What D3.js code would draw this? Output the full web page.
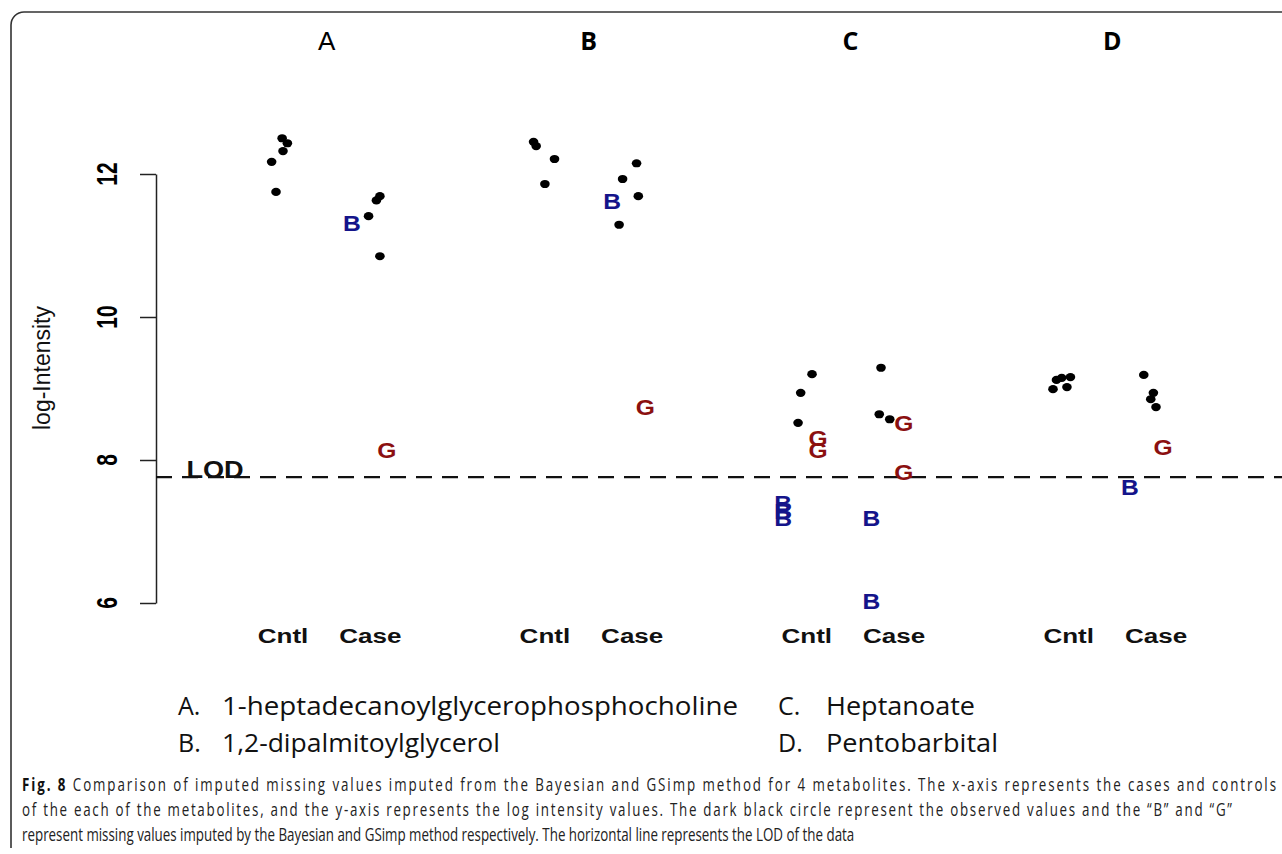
<!DOCTYPE html>
<html>
<head>
<meta charset="utf-8">
<script src="https://cdn.jsdelivr.net/npm/d3@7"></script>
<style>
  body { margin: 0; background: #fff; }
</style>
</head>
<body>
<div id="chart"></div>
<script>
// ---- data ----
const metabolites = ["A", "B", "C", "D"];
const groups = ["Cntl", "Case"];
const yTicks = [6, 8, 10, 12];
const lodValue = 7.76;

// [metabolite, group, jitter, log-intensity]
const observed = [
  ["A", "Cntl", -0.13, 12.17], ["A", "Cntl", -0.08, 11.75], ["A", "Cntl", 0.00, 12.32],
  ["A", "Cntl", -0.01, 12.50], ["A", "Cntl", 0.05, 12.43],
  ["A", "Case", -0.02, 11.41], ["A", "Case", 0.07, 11.63], ["A", "Case", 0.11, 11.69],
  ["A", "Case", 0.11, 10.85],
  ["B", "Cntl", -0.13, 12.45], ["B", "Cntl", -0.10, 12.39], ["B", "Cntl", 0.11, 12.21],
  ["B", "Cntl", 0.00, 11.86],
  ["B", "Case", 0.05, 12.15], ["B", "Case", -0.11, 11.93], ["B", "Case", 0.07, 11.69],
  ["B", "Case", -0.15, 11.29],
  ["C", "Cntl", 0.06, 9.20], ["C", "Cntl", -0.07, 8.94], ["C", "Cntl", -0.10, 8.52],
  ["C", "Case", -0.15, 9.29], ["C", "Case", -0.17, 8.64], ["C", "Case", -0.05, 8.57],
  ["D", "Cntl", -0.18, 8.99], ["D", "Cntl", -0.14, 9.12], ["D", "Cntl", -0.08, 9.15],
  ["D", "Cntl", -0.02, 9.02], ["D", "Cntl", 0.02, 9.16],
  ["D", "Case", -0.14, 9.19], ["D", "Case", -0.03, 8.94], ["D", "Case", -0.06, 8.85],
  ["D", "Case", 0.00, 8.74]
];
// imputed by the Bayesian method ("B")
const bayesian = [
  ["A", "Case", -0.21, 11.31], ["B", "Case", -0.23, 11.62],
  ["C", "Cntl", -0.27, 7.40], ["C", "Cntl", -0.27, 7.29], ["C", "Cntl", -0.27, 7.19],
  ["C", "Case", -0.26, 7.19], ["C", "Case", -0.26, 6.03],
  ["D", "Case", -0.30, 7.62]
];
// imputed by GSimp ("G")
const gsimp = [
  ["A", "Case", 0.19, 8.14], ["B", "Case", 0.15, 8.74],
  ["C", "Cntl", 0.13, 8.30], ["C", "Cntl", 0.13, 8.14],
  ["C", "Case", 0.11, 8.52], ["C", "Case", 0.11, 7.83],
  ["D", "Case", 0.08, 8.18]
];
const legendNames = ["1-heptadecanoylglycerophosphocholine", "1,2-dipalmitoylglycerol", "Heptanoate", "Pentobarbital"];
const captionLines = [
  "Comparison of imputed missing values imputed from the Bayesian and GSimp method for 4 metabolites. The x-axis represents the cases and controls",
  "of the each of the metabolites, and the y-axis represents the log intensity values. The dark black circle represent the observed values and the \u201cB\u201d and \u201cG\u201d",
  "represent missing values imputed by the Bayesian and GSimp method respectively. The horizontal line represents the LOD of the data"
];

// ---- layout ----
const W = 1282, H = 854;
const axisX = 156;
const svg = d3.select("#chart").append("svg")
  .attr("width", W).attr("height", H)
  .style("font-family", "'Liberation Sans', Arial, sans-serif");

const pos = (m, g) => metabolites.indexOf(m) * 3 + groups.indexOf(g) + 1;
const x = d3.scaleLinear().domain([1, 11]).range([283, 1156]);
const y = d3.scaleLinear().domain([6, 12]).range([603, 174]);

// frame
svg.append("path")
  .attr("d", "M11,848 V25 A13,13 0 0 1 24,12 H" + W)
  .attr("fill", "none").attr("stroke", "#333").attr("stroke-width", 1.6);

// y axis, R style
const yAxis = svg.append("g")
  .attr("transform", "translate(" + axisX + ",0)")
  .call(d3.axisLeft(y).tickValues(yTicks).tickSize(16).tickSizeOuter(0).tickFormat(""));
yAxis.selectAll("path, line").attr("stroke", "#222").attr("stroke-width", 1.5);

svg.selectAll(".ytick")
  .data(yTicks)
  .enter().append("text")
  .attr("transform", d => "translate(117," + y(d) + ") scale(1.4,1) rotate(-90)")
  .attr("text-anchor", "middle")
  .attr("font-size", 21).attr("font-weight", "bold")
  .text(d => d);

svg.append("text")
  .attr("transform", "translate(50,368) rotate(-90)")
  .attr("text-anchor", "middle")
  .attr("font-size", 23)
  .attr("fill", "#111")
  .text("log-Intensity");

// LOD line
svg.append("line")
  .attr("x1", axisX).attr("x2", W)
  .attr("y1", y(lodValue)).attr("y2", y(lodValue))
  .attr("stroke", "#111").attr("stroke-width", 2.2)
  .attr("stroke-dasharray", "16,10");
svg.append("text")
  .attr("transform", "translate(215," + (y(lodValue) + 1) + ") scale(1.13,1)")
  .attr("text-anchor", "middle")
  .attr("font-size", 24).attr("font-weight", "bold")
  .attr("fill", "#111")
  .text("LOD");

// panel titles
svg.selectAll(".title")
  .data(metabolites)
  .enter().append("text")
  .attr("x", (d, i) => x(i * 3 + 1.5))
  .attr("y", 50)
  .attr("text-anchor", "middle")
  .attr("font-size", (d, i) => i === 0 ? 26 : 25)
  .attr("font-weight", (d, i) => i === 0 ? "normal" : "bold")
  .style("font-family", (d, i) => i === 0 ? "'Liberation Sans', Arial, sans-serif" : "'Liberation Sans Narrow', 'Open Sans', sans-serif")
  .text(d => d);

// group labels
const groupLabels = [];
metabolites.forEach(m => groups.forEach(g => groupLabels.push({ m: m, g: g })));
svg.selectAll(".glab")
  .data(groupLabels)
  .enter().append("text")
  .attr("transform", d => "translate(" + x(pos(d.m, d.g)) + ",643) scale(1.24,1)")
  .attr("text-anchor", "middle")
  .attr("font-size", 21).attr("font-weight", "bold")
  .attr("fill", "#111")
  .text(d => d.g);

// observed points
svg.selectAll(".obs")
  .data(observed)
  .enter().append("ellipse")
  .attr("cx", d => x(pos(d[0], d[1]) + d[2]))
  .attr("cy", d => y(d[3]))
  .attr("rx", 4.8).attr("ry", 4.1)
  .attr("fill", "#000");

// imputed letters
const drawLetters = (data, letter, color) => {
  svg.append("g").selectAll("text")
    .data(data)
    .enter().append("text")
    .attr("transform", d => "translate(" + x(pos(d[0], d[1]) + d[2]) + "," + y(d[3]) + ") scale(1.12,1)")
    .attr("dy", "0.36em")
    .attr("text-anchor", "middle")
    .attr("font-size", 22).attr("font-weight", "bold")
    .attr("fill", color)
    .text(letter);
};
drawLetters(bayesian, "B", "#14148a");
drawLetters(gsimp, "G", "#8b1010");

// metabolite legend
const legend = svg.append("g")
  .style("font-family", "'Open Sans', 'Noto Sans', sans-serif")
  .attr("font-size", 25).attr("fill", "#111");
const legX = [[178, 222], [178, 222], [778, 826], [778, 826]];
const legY = [715, 752, 715, 752];
const legW = [516, 278, 149, 172];
legendNames.forEach((name, i) => {
  legend.append("text").attr("x", legX[i][0]).attr("y", legY[i]).text(metabolites[i] + ".");
  legend.append("text").attr("x", legX[i][1]).attr("y", legY[i])
    .attr("textLength", legW[i]).attr("lengthAdjust", "spacingAndGlyphs")
    .text(name);
});

// caption: condensed glyphs, first two lines justified
const capTarget = [1254, 1210, 833];
const capY = [791, 816, 841];
const caption = svg.append("g")
  .style("font-family", "'Open Sans', 'Noto Sans', sans-serif")
  .attr("font-size", 18.5).attr("fill", "#222");
const capTexts = captionLines.map((line, i) => {
  const t = caption.append("text").attr("x", 0).attr("y", capY[i]);
  if (i === 0) {
    t.append("tspan").attr("font-weight", "bold").attr("fill", "#111").text("Fig. 8 ");
  }
  t.append("tspan").text(line);
  return t;
});
const squeeze = capTarget[2] / capTexts[2].node().getComputedTextLength();
capTexts.forEach((t, i) => {
  t.attr("transform", "translate(22,0) scale(" + squeeze + ",1)");
  if (i < 2) {
    t.attr("textLength", capTarget[i] / squeeze).attr("lengthAdjust", "spacing");
  }
});
</script>
</body>
</html>
